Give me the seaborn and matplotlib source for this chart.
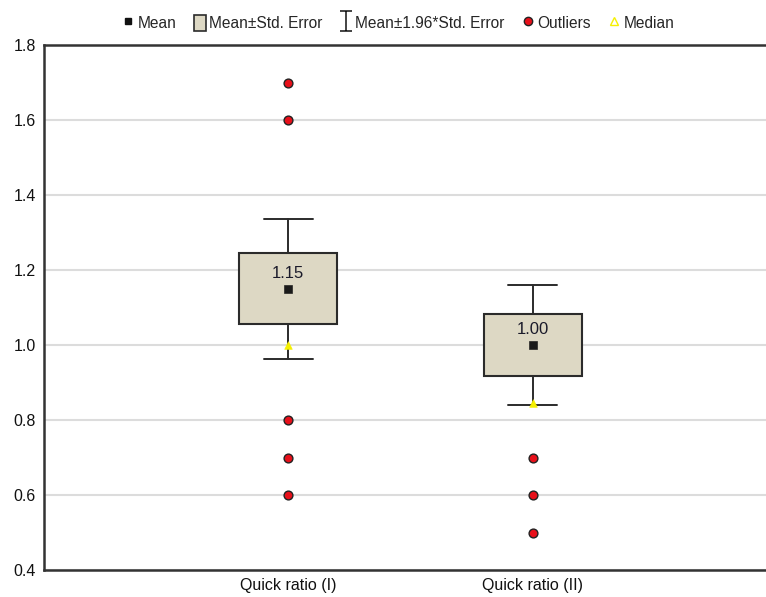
import numpy as np
import pandas as pd
import matplotlib
matplotlib.use("Agg")
import matplotlib.pyplot as plt
from matplotlib.path import Path
from matplotlib.lines import Line2D
from matplotlib.patches import Patch
import seaborn as sns

# values
labels = ["Quick ratio (I)", "Quick ratio (II)"]
means = [1.15, 1.00]
std_err = [0.095, 0.082]
medians = [1.00, 0.845]
outliers_i = [1.7, 1.6, 0.8, 0.7, 0.6]
outliers_ii = [0.7, 0.6, 0.5]

sns.set_style("white")
plt.rcParams["font.family"] = ["Liberation Sans", "DejaVu Sans"]
plt.rcParams["font.size"] = 11

box_color = "#ddd8c4"
edge = "#2b2b2b"

fig = plt.figure(figsize=(7.66, 5.97), dpi=100)
ax = fig.add_axes([44 / 766, 27 / 597, 722 / 766 + 0.01, 525 / 597])

# boxes = mean +- SE, whiskers = mean +- 1.96*SE
stats = []
for lab, m, se in zip(labels, means, std_err):
    stats.append(dict(label=lab, med=m, q1=m - se, q3=m + se,
                      whislo=m - 1.96 * se, whishi=m + 1.96 * se, fliers=[]))
ax.bxp(stats, positions=[0, 1], widths=0.4, patch_artist=True,
       showfliers=False, showcaps=True,
       boxprops=dict(facecolor=box_color, edgecolor=edge, linewidth=1.5),
       whiskerprops=dict(color=edge, linewidth=1.4),
       capprops=dict(color=edge, linewidth=1.4),
       medianprops=dict(linewidth=0), capwidths=0.2, zorder=3)

out_df = pd.DataFrame({
    "x": [0] * len(outliers_i) + [1] * len(outliers_ii),
    "y": outliers_i + outliers_ii,
})
sns.scatterplot(data=out_df, x="x", y="y", ax=ax, color="#e8101a",
                edgecolor="#222222", linewidth=1.0, s=40, zorder=4)

mean_df = pd.DataFrame({"x": [0, 1], "y": means})
sns.scatterplot(data=mean_df, x="x", y="y", ax=ax, marker="s", color="#1a1a1a",
                edgecolor="#1a1a1a", s=30, zorder=5)

med_df = pd.DataFrame({"x": [0, 1], "y": medians})
sns.scatterplot(data=med_df, x="x", y="y", ax=ax, marker="^", color="#f5f000",
                edgecolor="#f5f000", s=30, zorder=5)

for i, m in enumerate(means):
    ax.text(i, m + 0.022, f"{m:.2f}", ha="center", va="bottom",
            fontsize=12, color="#1a1a2a", zorder=6)

ax.set_xlim(-1.0, 1.955 + 0.01 * 766 / 244)
ax.set_ylim(0.4, 1.8)
ax.set_yticks(np.arange(0.4, 1.81, 0.2))
ax.set_yticklabels([f"{v:.1f}" for v in np.arange(0.4, 1.81, 0.2)])
ax.set_xticks([0, 1])
ax.set_xticklabels(labels)
ax.set_xlabel("")
ax.set_ylabel("")
ax.yaxis.grid(True, color="#dcdcdc", linewidth=1.5, zorder=0)
ax.set_axisbelow(True)
ax.tick_params(axis="both", direction="in", length=3, width=1, colors="#444444",
               labelcolor="#111111", labelsize=11.5, pad=6)
for s in ["left", "bottom", "top"]:
    ax.spines[s].set_color("#333333")
    ax.spines[s].set_linewidth(1.8)
ax.spines["right"].set_visible(False)

ibeam = Path([(-0.6, 1), (0.6, 1), (0, 1), (0, -1), (-0.6, -1), (0.6, -1)],
             [Path.MOVETO, Path.LINETO, Path.MOVETO, Path.LINETO, Path.MOVETO, Path.LINETO])
handles = [
    Line2D([], [], marker="s", color="#111111", linestyle="none", markersize=5),
    Patch(facecolor=box_color, edgecolor=edge, linewidth=1.2),
    Line2D([], [], marker=ibeam, color="#111111", markerfacecolor="none",
           linestyle="none", markersize=14, markeredgewidth=1.1),
    Line2D([], [], marker="o", color="#e8101a", markeredgecolor="#222222",
           linestyle="none", markersize=6),
    Line2D([], [], marker="^", color="#f5f000", markerfacecolor="none",
           markeredgecolor="#f5f000", linestyle="none", markersize=6),
]
legend_labels = ["Mean", "Mean±Std. Error", "Mean±1.96*Std. Error", "Outliers", "Median"]
fig.legend(handles, legend_labels, loc="center", bbox_to_anchor=(0.52, 0.962),
           ncol=5, frameon=False, handlelength=0.8, handletextpad=0.2,
           columnspacing=1.1, fontsize=11.2, handleheight=1.2)

fig.savefig("out.png", dpi=100)
